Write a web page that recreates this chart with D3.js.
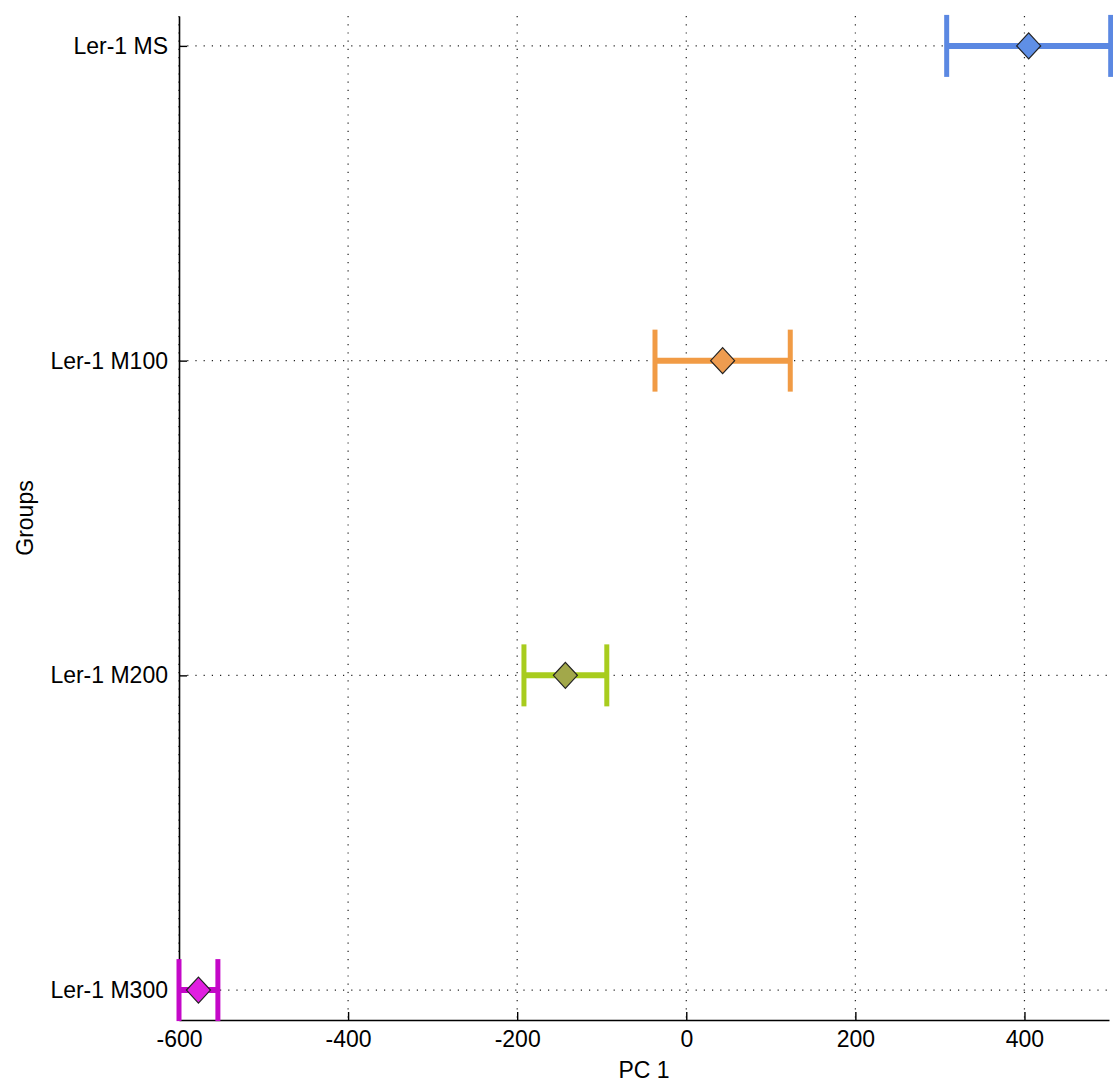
<!DOCTYPE html>
<html>
<head>
<meta charset="utf-8">
<script src="https://cdn.jsdelivr.net/npm/d3@7"></script>
<style>
  body { margin: 0; background: #fff; }
  text { font-family: "Liberation Sans", Arial, sans-serif; fill: #000; }
</style>
</head>
<body>
<div id="chart"></div>
<script>
// group names, top to bottom
var groups = ["Ler-1 MS", "Ler-1 M100", "Ler-1 M200", "Ler-1 M300"];
// group means on PC 1 and half-width of comparison interval
var means = [405, 43, -143, -577];
var halfWidths = [97, 80, 49, 23];
var xTicks = [-600, -400, -200, 0, 200, 400];

var barColors = ["#5b88e2", "#f19b45", "#a8cc1e", "#c408c8"];
var diamondFill = ["#5f8fe6", "#ee9c50", "#a2a84a", "#e01ee0"];

var width = 1113, height = 1084;
var margin = {top: 16, right: 4, bottom: 64, left: 179};

var x = d3.scaleLinear().domain([-600, 500]).range([margin.left, 1109]);
var y = d3.scaleLinear().domain([0.905, 4.095]).range([margin.top, height - margin.bottom]);

var svg = d3.select("#chart").append("svg")
    .attr("width", width)
    .attr("height", height);

var data = groups.map(function(g, i) {
  return {name: g, pos: i + 1, mean: means[i], lo: means[i] - halfWidths[i], hi: means[i] + halfWidths[i], i: i};
});

// grid
svg.append("g").selectAll("line")
    .data(xTicks)
  .enter().append("line")
    .attr("x1", function(d) { return x(d); })
    .attr("x2", function(d) { return x(d); })
    .attr("y1", y.range()[0])
    .attr("y2", y.range()[1])
    .attr("stroke", "#222")
    .attr("stroke-width", 1.2)
    .attr("stroke-dasharray", "1.2,7");

svg.append("g").selectAll("line")
    .data(data)
  .enter().append("line")
    .attr("x1", x.range()[0])
    .attr("x2", x.range()[1])
    .attr("y1", function(d) { return y(d.pos); })
    .attr("y2", function(d) { return y(d.pos); })
    .attr("stroke", "#222")
    .attr("stroke-width", 1.2)
    .attr("stroke-dasharray", "1.2,7");

// axes
var xAxis = d3.axisBottom(x).tickValues(xTicks)
    .tickFormat(function(d) { return String(d); })
    .tickSizeInner(-8).tickSizeOuter(0).tickPadding(11);
var yAxis = d3.axisLeft(y).tickValues([1, 2, 3, 4])
    .tickFormat(function(d) { return groups[d - 1]; })
    .tickSizeInner(-8).tickSizeOuter(0).tickPadding(11);

var gx = svg.append("g")
    .attr("transform", "translate(0," + y.range()[1] + ")")
    .call(xAxis);
var gy = svg.append("g")
    .attr("transform", "translate(" + x.range()[0] + ",0)")
    .call(yAxis);

[gx, gy].forEach(function(g) {
  g.select(".domain").attr("stroke", "#000").attr("stroke-width", 1.6);
  g.selectAll(".tick line").attr("stroke", "#000").attr("stroke-width", 1.4);
  g.selectAll(".tick text").style("font-size", "23px").attr("fill", "#000");
});
gx.selectAll(".tick text").attr("dy", "0.71em");

// interval bars
var marks = svg.append("g");
data.forEach(function(d) {
  var cy = y(d.pos);
  var c = barColors[d.i];
  marks.append("line")
      .attr("x1", x(d.lo)).attr("x2", x(d.hi))
      .attr("y1", cy).attr("y2", cy)
      .attr("stroke", c).attr("stroke-width", 6);
  [d.lo, d.hi].forEach(function(v) {
    marks.append("line")
        .attr("x1", x(v)).attr("x2", x(v))
        .attr("y1", cy - 31).attr("y2", cy + 31)
        .attr("stroke", c).attr("stroke-width", 5);
  });
  var cx = x(d.mean);
  marks.append("path")
      .attr("d", "M" + cx + "," + (cy - 13) + "L" + (cx + 12) + "," + cy + "L" + cx + "," + (cy + 13) + "L" + (cx - 12) + "," + cy + "Z")
      .attr("fill", diamondFill[d.i])
      .attr("stroke", "#222")
      .attr("stroke-width", 1.2);
});

// axis titles
svg.append("text")
    .attr("x", (x.range()[0] + x.range()[1]) / 2)
    .attr("y", 1078)
    .attr("text-anchor", "middle")
    .style("font-size", "23px")
    .text("PC 1");

svg.append("text")
    .attr("transform", "translate(33," + ((y.range()[0] + y.range()[1]) / 2) + ") rotate(-90)")
    .attr("text-anchor", "middle")
    .style("font-size", "23px")
    .text("Groups");
</script>
</body>
</html>
